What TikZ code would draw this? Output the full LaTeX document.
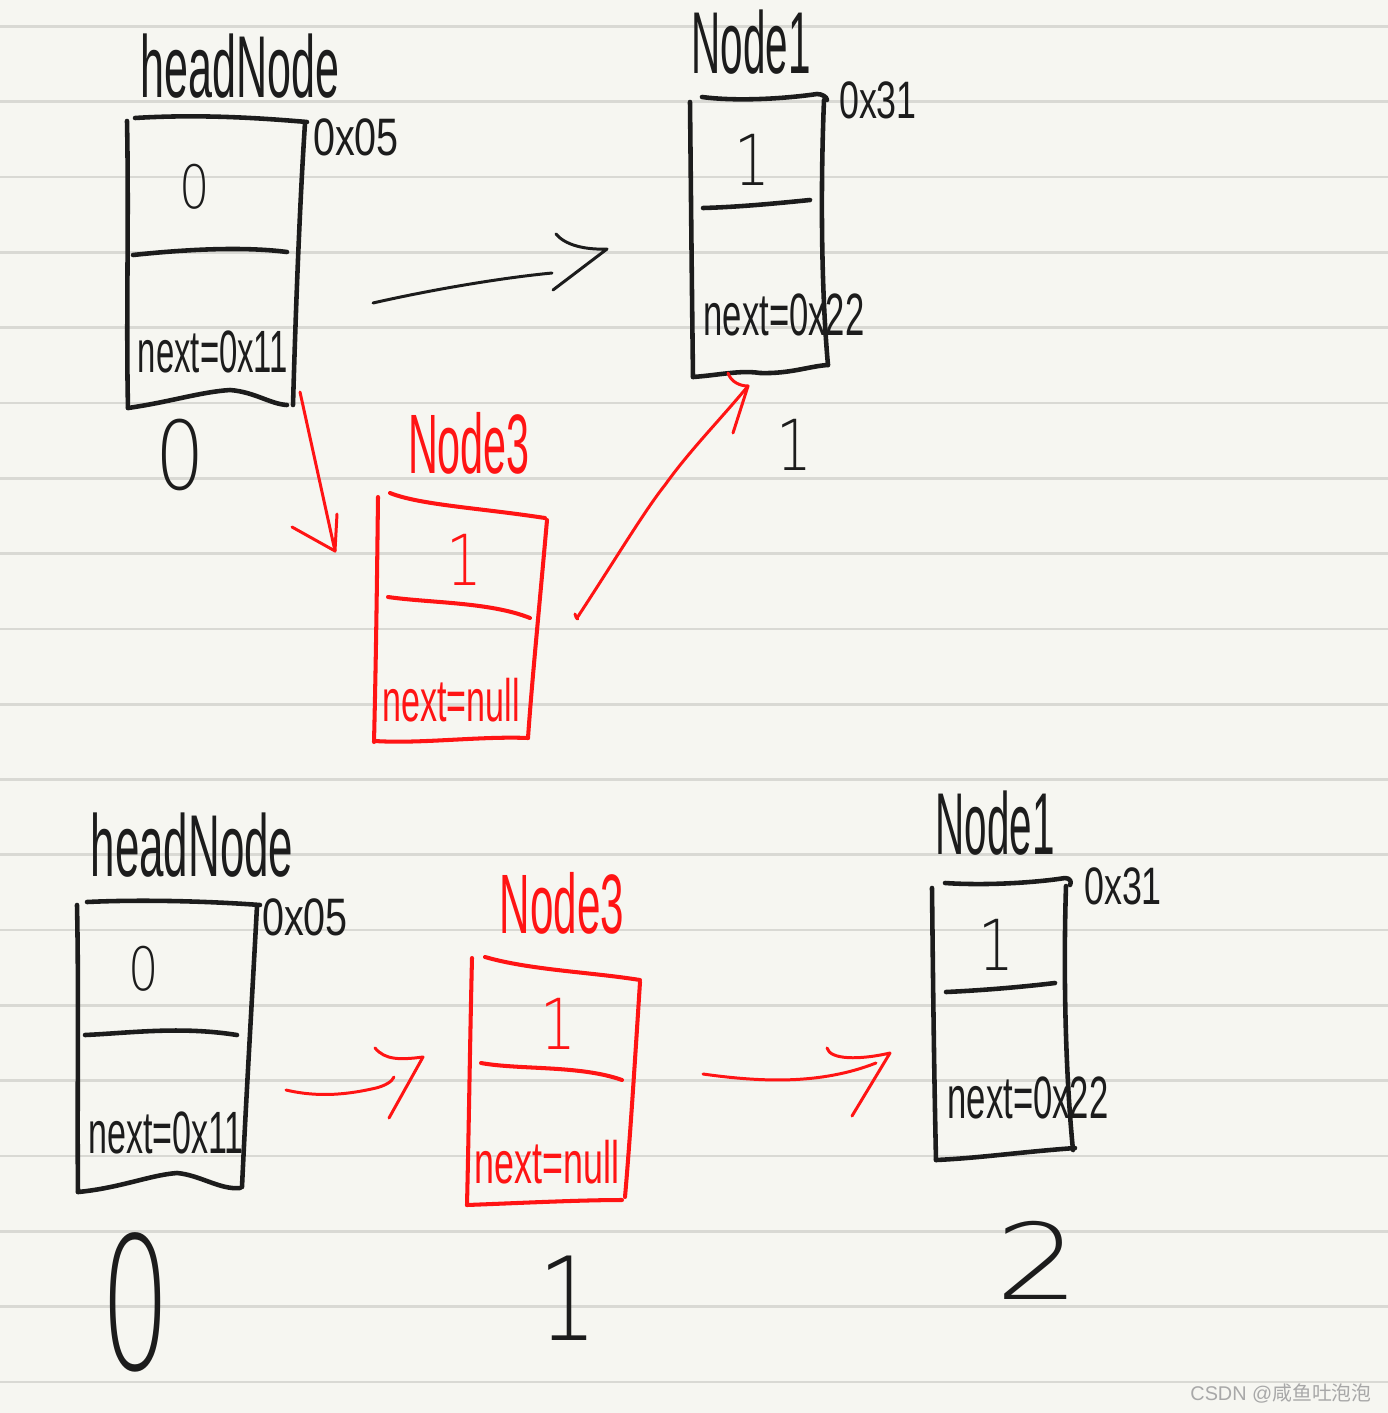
\documentclass[tikz,border=0pt]{standalone}
\usepackage{fontspec}
\setmainfont{Liberation Sans}
\newfontfamily\cjkfont{Noto Sans CJK SC}
\newfontfamily\thinfont{DejaVuSans-ExtraLight.ttf}
\definecolor{paper}{HTML}{F6F6F1}
\definecolor{rule}{HTML}{D9D9D4}
\definecolor{inkblack}{HTML}{1C1C1C}
\definecolor{inkred}{HTML}{FF1414}
\definecolor{wmgray}{HTML}{A8A8A8}
\newcommand\handtxt[3]{\scalebox{#1}[1]{\fontsize{#2pt}{#2pt}\selectfont #3}}
\newcommand\thintxt[3]{\scalebox{#1}[1]{\thinfont\fontsize{#2pt}{#2pt}\selectfont #3}}
\begin{document}
\begin{tikzpicture}[x=0.02cm,y=-0.02cm,
  ink/.style={draw=inkblack, line width=2.6pt, line cap=round, line join=round},
  redink/.style={draw=inkred, line width=2.3pt, line cap=round, line join=round},
  thinink/.style={draw=inkblack, line width=1.7pt, line cap=round, line join=round},
  thinred/.style={draw=inkred, line width=1.7pt, line cap=round, line join=round},
  blacktxt/.style={text=inkblack, inner sep=0pt},
  redtxt/.style={text=inkred, inner sep=0pt},
  wm/.style={text=wmgray, inner sep=0pt}]
\useasboundingbox (0,0) rectangle (1388,1413);
\fill[paper] (0,0) rectangle (1388,1413);
\foreach \k in {0,...,18} {
  \draw[rule, line width=1.5pt] (0,{26.5+75.3*\k}) -- (1388,{26.5+75.3*\k});
}

% ================= TOP: headNode =================
\node[blacktxt] (hn1label) at (240,66) {\handtxt{0.49}{50}{headNode}};
\node[blacktxt] (hn1addr) at (356,137) {\handtxt{0.75}{30}{0x05}};
\draw[ink] (135,118) .. controls (200,114) and (260,118) .. (307,122);
\draw[ink] (127,121) .. controls (129,220) and (126,320) .. (128,408);
\draw[ink] (305,123) .. controls (300,200) and (296,300) .. (293,405);
\draw[ink] (128,408) .. controls (170,402) and (200,392) .. (230,390) .. controls (255,392) and (270,404) .. (287,405);
\draw[ink] (133,255) .. controls (180,250) and (240,246) .. (287,252);
\node[blacktxt] (hn1val) at (195,187) {\thintxt{0.8}{34}{0}};
\node[blacktxt] (hn1next) at (213,352) {\handtxt{0.55}{34}{next=0x11}};
\node[blacktxt] (hn1idx) at (180,455) {\thintxt{0.82}{54}{0}};

% ================= TOP: Node1 =================
\node[blacktxt] (n1label) at (751,42) {\handtxt{0.46}{50}{Node1}};
\node[blacktxt] (n1addr) at (878,100) {\handtxt{0.68}{30}{0x31}};
\draw[ink] (702,97) .. controls (740,102) and (790,98) .. (817,94) .. controls (822,94) and (827,97) .. (827,100);
\draw[ink] (690,102) .. controls (691,200) and (692,300) .. (693,377);
\draw[ink] (824,100) .. controls (820,200) and (822,300) .. (828,365);
\draw[ink] (693,377) .. controls (720,375) and (740,370) .. (760,373) .. controls (790,374) and (810,366) .. (828,365);
\draw[ink] (703,208) .. controls (740,207) and (780,203) .. (810,200);
\node[blacktxt] (n1val) at (752,160) {\thintxt{0.8}{40}{1}};
\node[blacktxt] (n1next) at (784,315) {\handtxt{0.58}{34}{next=0x22}};
\node[blacktxt] (n1idx) at (794,445) {\thintxt{0.8}{40}{1}};

% ================= TOP: Node3 (red) =================
\node[redtxt] (n3label) at (469,443) {\handtxt{0.49}{48}{Node3}};
\draw[redink] (390,493) .. controls (420,505) and (480,508) .. (545,518);
\draw[redink] (378,497) .. controls (377,580) and (376,660) .. (374,742);
\draw[redink] (547,520) .. controls (540,600) and (532,680) .. (528,738);
\draw[redink] (375,741) .. controls (420,744) and (480,736) .. (528,738);
\draw[redink] (388,597) .. controls (430,603) and (490,602) .. (530,618);
\node[redtxt] (n3val) at (464,560) {\thintxt{0.8}{40}{1}};
\node[redtxt] (n3next) at (451,700) {\handtxt{0.57}{34}{next=null}};

% ---- top arrows ----
\coordinate (a1s) at (373,303);
\coordinate (a1e) at (552,273);
\coordinate (a1t) at (607,249);
\draw[thinink] (a1s) .. controls (430,290) and (500,278) .. (a1e);
\draw[thinink] (556,234) .. controls (565,245) and (585,250) .. (a1t) -- (553,290);

\coordinate (r1s) at (300,392);
\coordinate (r1t) at (335,551);
\draw[thinred] (r1s) -- (r1t);
\draw[thinred] (292,527) -- (r1t) -- (337,514);

\coordinate (r2s) at (577,618);
\coordinate (r2t) at (748,386);
\draw[thinred] (575,614) .. controls (576,619) and (579,620) .. (r2s) .. controls (615,560) and (645,510) .. (665,485) .. controls (690,450) and (720,420) .. (r2t);
\draw[thinred] (728,373) .. controls (731,382) and (740,386) .. (r2t) -- (733,433);

% ================= BOTTOM: headNode =================
\node[blacktxt] (hn2label) at (192,845) {\handtxt{0.5}{50}{headNode}};
\node[blacktxt] (hn2addr) at (305,917) {\handtxt{0.75}{30}{0x05}};
\draw[ink] (87,902) .. controls (150,899) and (220,902) .. (260,905);
\draw[ink] (77,905) .. controls (79,1000) and (77,1100) .. (78,1192);
\draw[ink] (257,906) .. controls (252,1000) and (246,1100) .. (242,1187);
\draw[ink] (78,1192) .. controls (120,1188) and (150,1175) .. (177,1173) .. controls (200,1175) and (220,1190) .. (240,1188);
\draw[ink] (85,1035) .. controls (130,1033) and (180,1026) .. (237,1035);
\node[blacktxt] (hn2val) at (144,969) {\thintxt{0.8}{34}{0}};
\node[blacktxt] (hn2next) at (166,1133) {\handtxt{0.57}{34}{next=0x11}};
\node[blacktxt] (hn2idx) at (136,1302) {\thintxt{0.6}{105}{0}};

% ================= BOTTOM: Node3 (red) =================
\node[redtxt] (n3blabel) at (562,903) {\handtxt{0.5}{48}{Node3}};
\draw[redink] (485,957) .. controls (530,970) and (590,972) .. (640,980);
\draw[redink] (472,958) .. controls (470,1040) and (469,1120) .. (467,1205);
\draw[redink] (640,982) .. controls (635,1060) and (630,1140) .. (625,1197);
\draw[redink] (467,1205) .. controls (520,1203) and (580,1200) .. (622,1200);
\draw[redink] (481,1063) .. controls (520,1070) and (580,1065) .. (622,1080);
\node[redtxt] (n3bval) at (558,1024) {\thintxt{0.8}{40}{1}};
\node[redtxt] (n3bnext) at (547,1162) {\handtxt{0.6}{34}{next=null}};
\node[blacktxt] (n3bidx) at (568,1298) {\thintxt{0.8}{66}{1}};

% ================= BOTTOM: Node1 =================
\node[blacktxt] (n1blabel) at (995,823) {\handtxt{0.46}{50}{Node1}};
\node[blacktxt] (n1baddr) at (1123,886) {\handtxt{0.68}{30}{0x31}};
\draw[ink] (945,883) .. controls (990,886) and (1040,882) .. (1065,878) .. controls (1070,878) and (1072,882) .. (1070,885);
\draw[ink] (932,888) .. controls (933,980) and (934,1070) .. (936,1160);
\draw[ink] (1066,886) .. controls (1063,980) and (1066,1080) .. (1073,1150);
\draw[ink] (936,1160) .. controls (980,1158) and (1020,1152) .. (1075,1148);
\draw[ink] (946,992) .. controls (990,990) and (1030,986) .. (1055,983);
\node[blacktxt] (n1bval) at (996,945) {\thintxt{0.8}{40}{1}};
\node[blacktxt] (n1bnext) at (1028,1098) {\handtxt{0.58}{34}{next=0x22}};
\node[blacktxt] (n1bidx) at (1038,1260) {\thintxt{1.26}{60}{2}};

% ---- bottom arrows ----
\coordinate (ras) at (286,1090);
\coordinate (rat) at (423,1057);
\draw[thinred] (ras) .. controls (320,1098) and (350,1094) .. (376,1088) .. controls (384,1086) and (392,1082) .. (394,1077);
\draw[thinred] (375,1048) .. controls (385,1060) and (400,1060) .. (rat) -- (389,1118);

\coordinate (rbs) at (703,1074);
\coordinate (rbt) at (890,1053);
\draw[thinred] (rbs) .. controls (760,1082) and (820,1085) .. (876,1063);
\draw[thinred] (827,1048) .. controls (830,1060) and (860,1060) .. (rbt) -- (852,1116);

% watermark
\node[wm] (wmark) at (1281,1393) {\fontsize{11.3pt}{12pt}\selectfont CSDN @{\cjkfont 咸鱼吐泡泡}};
\end{tikzpicture}
\end{document}
